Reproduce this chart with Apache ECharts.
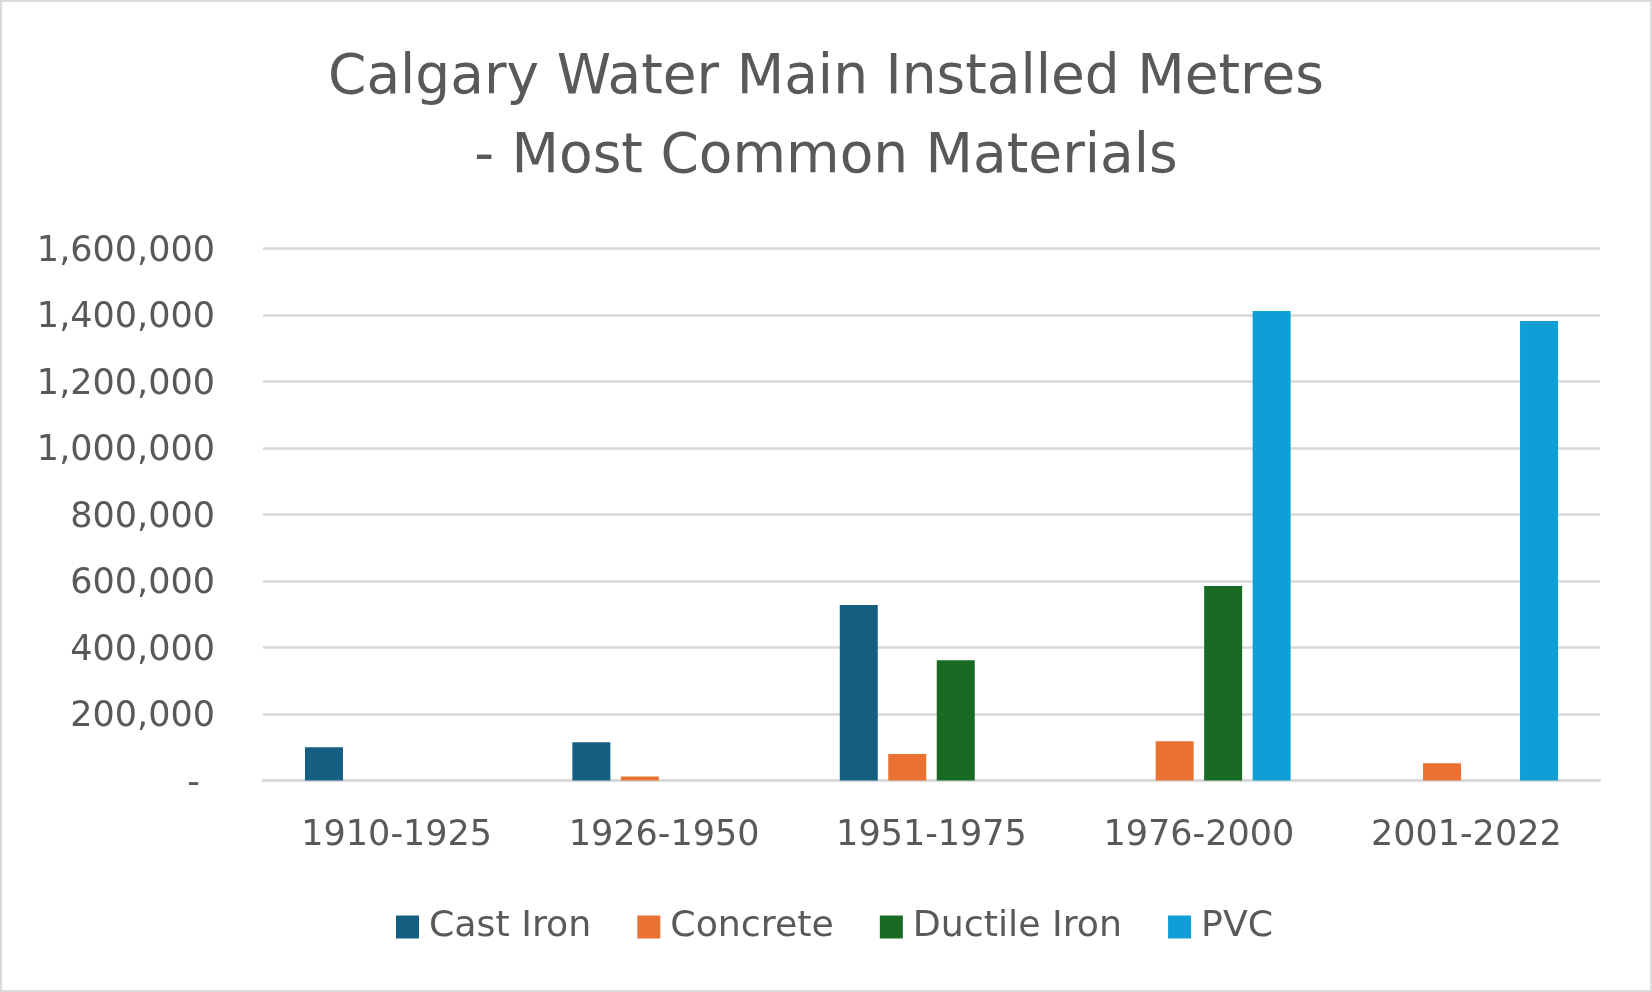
<!DOCTYPE html>
<html>
<head>
<meta charset="utf-8">
<script src="https://cdn.jsdelivr.net/npm/echarts@6/dist/echarts.min.js"></script>
<style>
  html, body { margin: 0; padding: 0; background: #fff; }
  #wrap { width: 1652px; height: 992px; box-sizing: border-box; border: 2px solid #d9d9d9; position: relative; }
  #chart { position: absolute; left: -2px; top: -2px; width: 1652px; height: 992px; }
</style>
</head>
<body>
<div id="wrap"><div id="chart"></div></div>
<script>
const titleText = 'Calgary Water Main Installed Metres\n- Most Common Materials';
const categories = ['1910-1925', '1926-1950', '1951-1975', '1976-2000', '2001-2022'];
const seriesNames = ['Cast Iron', 'Concrete', 'Ductile Iron', 'PVC'];
const castIron = [100000, 115000, 528000, 0, 0];
const concrete = [0, 12000, 80000, 118000, 52000];
const ductileIron = [0, 0, 362000, 585000, 0];
const pvc = [0, 0, 0, 1412000, 1382000];
const yMin = 0, yMax = 1600000, yInterval = 200000;

const colors = ['#156082', '#E97132', '#196B24', '#0F9ED5'];
const FONT = 'DejaVu Sans';
const TXT = '#595959';

const chart = echarts.init(document.getElementById('chart'), null, { renderer: 'canvas' });
const values = [castIron, concrete, ductileIron, pvc];

chart.setOption({
  animation: false,
  backgroundColor: 'transparent',
  color: colors,
  title: {
    text: titleText,
    left: 'center',
    top: 34,
    textStyle: { fontFamily: FONT, fontSize: 55, fontWeight: 'normal', color: TXT, lineHeight: 79 }
  },
  legend: {
    data: seriesNames,
    left: 396,
    top: 909,
    padding: 0,
    icon: 'rect',
    itemWidth: 23,
    itemHeight: 23,
    itemGap: 46,
    textStyle: { fontFamily: FONT, fontSize: 36.3, color: TXT, lineHeight: 36, padding: [0, 0, 0, 5] }
  },
  grid: { left: 263, right: 52, top: 248.5, bottom: 211.5, containLabel: false },
  xAxis: {
    type: 'category',
    data: categories,
    axisLine: { show: true, lineStyle: { color: '#d9d9d9', width: 2.5 } },
    axisTick: { show: false },
    axisLabel: { fontFamily: FONT, fontSize: 35, color: TXT, margin: 38, lineHeight: 35 }
  },
  yAxis: {
    type: 'value',
    min: yMin,
    max: yMax,
    interval: yInterval,
    axisLine: { show: false },
    axisTick: { show: false },
    splitLine: { lineStyle: { color: '#d9d9d9', width: 2.5 } },
    axisLabel: {
      fontFamily: FONT, fontSize: 35, color: TXT, margin: 48,
      padding: [6, 0, 0, 0],
      formatter: function (v) { return v === 0 ? '{d|-}' : v.toLocaleString('en-US'); },
      rich: { d: { fontFamily: FONT, fontSize: 35, color: TXT, padding: [0, 15, 0, 0] } }
    }
  },
  series: seriesNames.map(function (name, i) {
    return {
      name: name,
      type: 'bar',
      data: values[i],
      barWidth: 38,
      barGap: '27.6%',
      itemStyle: { color: colors[i] }
    };
  })
});
</script>
</body>
</html>
